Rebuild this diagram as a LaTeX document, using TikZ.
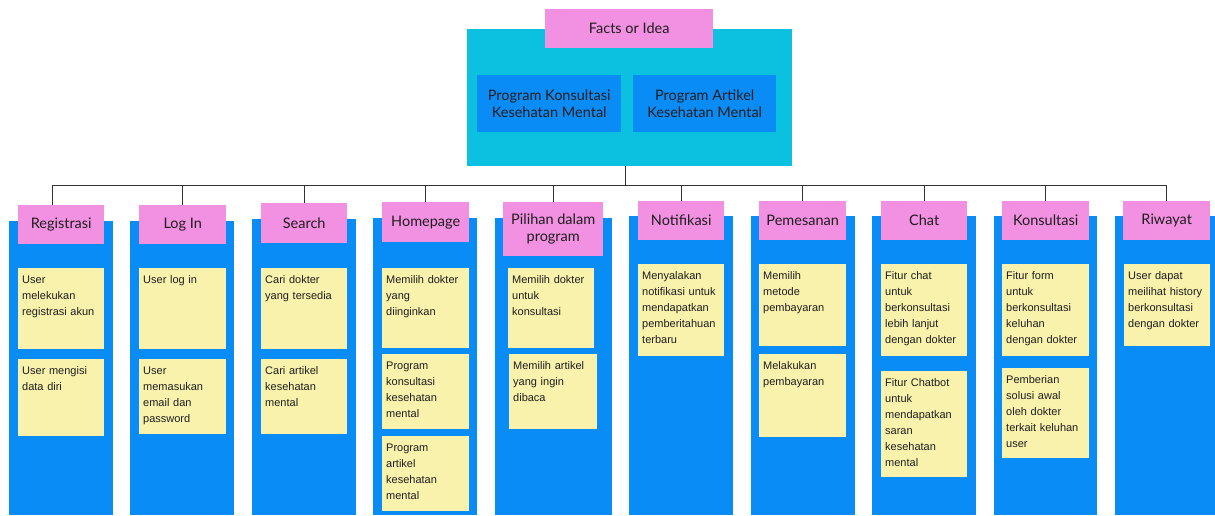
\documentclass[tikz,border=0pt]{standalone}
\usepackage{fontspec}
\setmainfont{Liberation Sans}
\newfontfamily\headfont{Lato}
\usetikzlibrary{positioning}
\definecolor{pinkhead}{HTML}{F290E1}
\definecolor{topcyan}{HTML}{0CC0DF}
\definecolor{colblue}{HTML}{0A8CF7}
\definecolor{noteyellow}{HTML}{F8F2AC}
\definecolor{textdark}{HTML}{1E1E1E}
\definecolor{linegray}{HTML}{333333}

\begin{document}
\begin{tikzpicture}[
  x=1pt, y=-1pt,
  head/.style={fill=pinkhead, anchor=north west, align=center, inner sep=0pt, text=textdark, font=\headfont\fontsize{14.5}{17.5}\selectfont},
  column/.style={fill=colblue, anchor=north west, inner sep=0pt},
  note/.style={fill=noteyellow, anchor=north west, align=left, inner xsep=4pt, inner ysep=6pt, text height=9pt, text=textdark, font=\fontsize{11}{16}\selectfont},
  link/.style={draw=linegray, line width=1.3pt}
]
\useasboundingbox (0,0) rectangle (1215,515);

% top block
\node[column, fill=topcyan, minimum width=325pt, minimum height=137pt] (topbox) at (467,29) {};
\node[head, minimum width=168pt, minimum height=39pt] (idea) at (545,9) {Facts or Idea};
\node[head, fill=colblue, minimum width=144pt, minimum height=57pt] (konsul) at (477,75) {Program Konsultasi\\Kesehatan Mental};
\node[head, fill=colblue, minimum width=143pt, minimum height=57pt] (artikel) at (633,75) {Program Artikel\\Kesehatan Mental};

% columns
\node[column, minimum width=104pt, minimum height=294pt] (regcol) at (9,221) {};
\node[column, minimum width=104pt, minimum height=294pt] (logcol) at (130,221) {};
\node[column, minimum width=104pt, minimum height=296pt] (seacol) at (252,219) {};
\node[column, minimum width=104pt, minimum height=297pt] (homcol) at (373,218) {};
\node[column, minimum width=117pt, minimum height=297pt] (pilcol) at (495,218) {};
\node[column, minimum width=104pt, minimum height=299pt] (notcol) at (629,216) {};
\node[column, minimum width=104pt, minimum height=299pt] (pemcol) at (751,216) {};
\node[column, minimum width=104pt, minimum height=299pt] (chacol) at (872,216) {};
\node[column, minimum width=103pt, minimum height=299pt] (kercol) at (994,216) {};
\node[column, minimum width=100pt, minimum height=299pt] (riwcol) at (1115,216) {};

% headers
\node[head, minimum width=86pt, minimum height=39pt] (reg) at (18,205) {Registrasi};
\node[head, minimum width=87pt, minimum height=39pt] (log) at (139,205) {Log In};
\node[head, minimum width=86pt, minimum height=40pt] (sea) at (261,203) {Search};
\node[head, minimum width=87pt, minimum height=40pt] (hom) at (382,202) {Homepage};
\node[head, minimum width=100pt, minimum height=54pt] (pil) at (503,202) {Pilihan dalam\\program};
\node[head, minimum width=86pt, minimum height=39pt] (notif) at (638,201) {Notifikasi};
\node[head, minimum width=87pt, minimum height=39pt] (pem) at (759,201) {Pemesanan};
\node[head, minimum width=86pt, minimum height=39pt] (chat) at (881,201) {Chat};
\node[head, minimum width=87pt, minimum height=39pt] (ker) at (1002,201) {Konsultasi};
\node[head, minimum width=87pt, minimum height=39pt] (riw) at (1123,201) {Riwayat};

% notes
\node[note, text width=78pt, text depth=60pt] (reg1) at (18,268) {User\\melekukan\\registrasi akun};
\node[note, text width=78pt, text depth=56pt] (reg2) at (18,359) {User mengisi\\data diri};
\node[note, text width=79pt, text depth=60pt] (log1) at (139,268) {User log in};
\node[note, text width=79pt, text depth=54pt] (log2) at (139,359) {User\\memasukan\\email dan\\password};
\node[note, text width=78pt, text depth=60pt] (sea1) at (261,268) {Cari dokter\\yang tersedia};
\node[note, text width=78pt, text depth=54pt] (sea2) at (261,359) {Cari artikel\\kesehatan\\mental};
\node[note, text width=79pt, text depth=59pt] (hom1) at (382,268) {Memilih dokter\\yang\\diinginkan};
\node[note, text width=79pt, text depth=54pt] (hom2) at (382,354) {Program\\konsultasi\\kesehatan\\mental};
\node[note, text width=79pt, text depth=54pt] (hom3) at (382,436) {Program\\artikel\\kesehatan\\mental};
\node[note, text width=78pt, text depth=59pt] (pil1) at (508,268) {Memilih dokter\\untuk\\konsultasi};
\node[note, text width=80pt, text depth=54pt] (pil2) at (509,354) {Memilih artikel\\yang ingin\\dibaca};
\node[note, text width=78pt, text depth=71pt] (notif1) at (638,264) {Menyalakan\\notifikasi untuk\\mendapatkan\\pemberitahuan\\terbaru};
\node[note, text width=79pt, text depth=61pt] (pem1) at (759,264) {Memilih\\metode\\pembayaran};
\node[note, text width=79pt, text depth=62pt] (pem2) at (759,354) {Melakukan\\pembayaran};
\node[note, text width=78pt, text depth=71pt] (chat1) at (881,264) {Fitur chat\\untuk\\berkonsultasi\\lebih lanjut\\dengan dokter};
\node[note, text width=78pt, text depth=85pt] (chat2) at (881,371) {Fitur Chatbot\\untuk\\mendapatkan\\saran\\kesehatan\\mental};
\node[note, text width=79pt, text depth=71pt] (ker1) at (1002,264) {Fitur form\\untuk\\berkonsultasi\\keluhan\\dengan dokter};
\node[note, text width=79pt, text depth=69pt] (ker2) at (1002,368) {Pemberian\\solusi awal\\oleh dokter\\terkait keluhan\\user};
\node[note, text width=78pt, text depth=61pt] (riw1) at (1124,264) {User dapat\\meilihat history\\berkonsultasi\\dengan dokter};

% tree lines
\draw[link] ([xshift=-4pt]topbox.south) -- ++(0,19) coordinate (bus);
\draw[link] (bus) -| ([xshift=-9pt]reg.north);
\draw[link] (bus) -| (log.north);
\draw[link] (bus) -| (sea.north);
\draw[link] (bus) -| (hom.north);
\draw[link] (bus) -| (pil.north);
\draw[link] (bus) -| (notif.north);
\draw[link] (bus) -| (pem.north);
\draw[link] (bus) -| (chat.north);
\draw[link] (bus) -| (ker.north);
\draw[link] (bus) -| (riw.north);
\end{tikzpicture}
\end{document}
